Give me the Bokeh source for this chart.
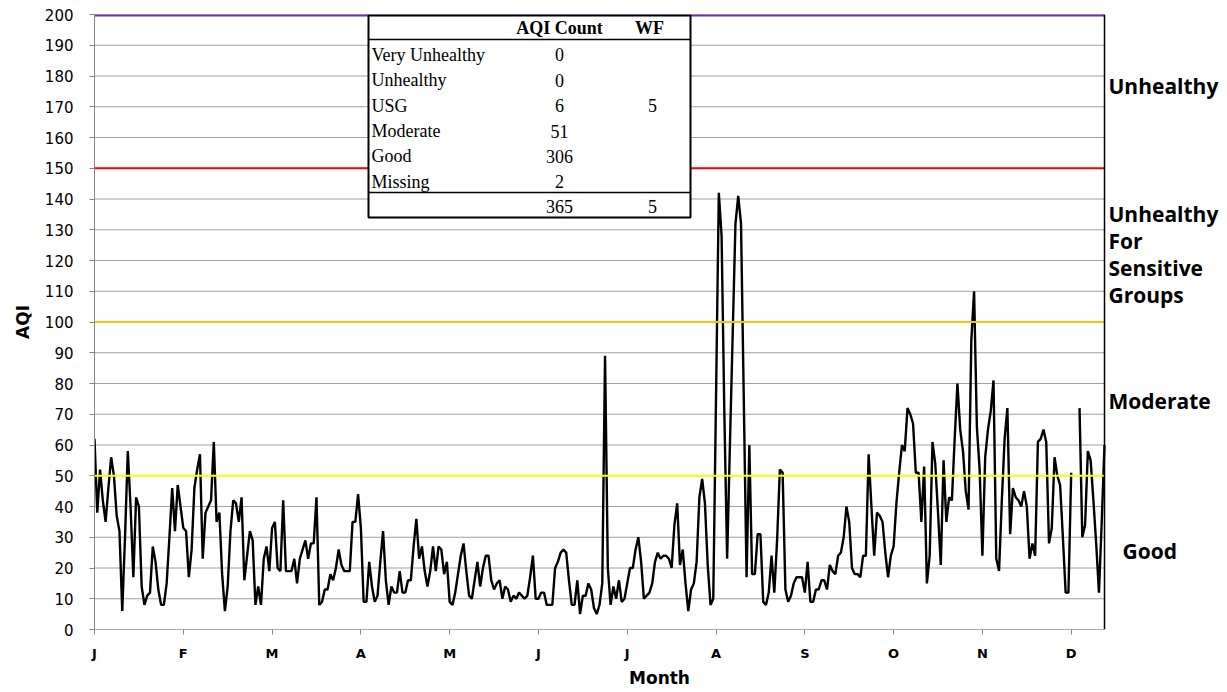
import numpy as np
from bokeh.plotting import figure
from bokeh.models import Span, BoxAnnotation, Label, FixedTicker, Range1d
from bokeh.embed import file_html
from bokeh.resources import INLINE

# ---------------- data ----------------
# daily AQI, Jan 1 .. Dec 31 (None = missing day)
aqi = [
    62, 38, 52, 42, 35, 46, 56, 50, 37, 32,
    6, 30, 58, 40, 17, 43, 40, 14, 8, 11,
    12, 27, 22, 13, 8, 8, 15, 30, 46, 32,
    47, 40, 33, 32, 17, 26, 46, 52, 57, 23,
    38, 40, 42, 61, 35, 38, 18, 6, 14, 32,
    42, 41, 35, 43, 16, 24, 32, 29, 8, 14,
    8, 23, 27, 19, 33, 35, 20, 19, 42, 19,
    19, 19, 23, 15, 23, 26, 29, 23, 28, 28,
    43, 8, 9, 13, 13, 18, 16, 20, 26, 21,
    19, 19, 19, 35, 35, 44, 33, 9, 9, 22,
    14, 9, 11, 22, 32, 16, 8, 14, 12, 12,
    19, 12, 12, 16, 16, 27, 36, 23, 27, 19,
    14, 19, 27, 19, 27, 26, 18, 22, 9, 8,
    12, 18, 24, 28, 19, 11, 10, 16, 22, 14,
    20, 24, 24, 16, 13, 15, 16, 10, 14, 13,
    9, 11, 10, 12, 11, 10, 11, 17, 24, 10,
    10, 12, 12, 8, 8, 8, 20, 22, 25, 26,
    25, 16, 8, 8, 16, 5, 11, 11, 15, 13,
    7, 5, 8, 15, 89, 20, 8, 14, 10, 16,
    9, 10, 15, 20, 20, 26, 30, 22, 10, 11,
    12, 15, 22, 25, 23, 24, 24, 23, 20, 34,
    41, 21, 26, 15, 6, 13, 15, 22, 43, 49,
    41, 21, 8, 10, 76, 142, 128, 70, 23, 60,
    96, 132, 141, 132, 75, 17, 60, 18, 18, 31,
    31, 9, 8, 12, 24, 12, 29, 52, 51, 13,
    9, 11, 15, 17, 17, 17, 12, 22, 9, 9,
    13, 13, 16, 16, 13, 21, 19, 18, 24, 25,
    30, 40, 35, 20, 18, 18, 17, 24, 24, 57,
    40, 24, 38, 37, 35, 25, 17, 24, 27, 41,
    51, 60, 58, 72, 70, 67, 51, 51, 35, 53,
    15, 24, 61, 54, 38, 21, 55, 35, 43, 42,
    62, 80, 65, 58, 45, 39, 94, 110, 66, 52,
    24, 56, 65, 71, 81, 23, 19, 42, 62, 72,
    31, 46, 43, 42, 40, 45, 40, 23, 28, 24,
    61, 62, 65, 61, 28, 33, 56, 50, 47, 30,
    12, 12, 51, None, None, 72, 30, 34, 58, 55,
    42, 28, 12, 35, 60,
]

month_letters = ["J", "F", "M", "A", "M", "J", "J", "A", "S", "O", "N", "D"]
tick_step_days = 32

thresholds = [50, 100, 150, 200]
threshold_colors = ["#FFFF00", "#FFC000", "#FF0000", "#7030A0"]
threshold_widths = [2, 2, 2, 4]   # top line is half clipped by the frame edge

table_categories = ["Very Unhealthy", "Unhealthy", "USG", "Moderate", "Good", "Missing"]
table_counts = ["0", "0", "6", "51", "306", "2"]
table_wf = ["", "", "5", "", "", ""]
table_total_count = "365"
table_total_wf = "5"

band_names = ["Unhealthy", "Unhealthy\nFor\nSensitive\nGroups", "Moderate", "Good"]

# ---------------- layout helpers ----------------
FRAME_L, FRAME_T = 94, 14          # page pixels of the data area origin
DATA_W, FRAME_H = 1010, 615        # width of the data area, frame height
PAGE_R = 1224                      # frame extends to here (room for band names)
y_vals = np.array(aqi, dtype=float)
days = np.arange(len(y_vals))
X0, X1 = 0, len(y_vals) - 1
Y0, Y1 = 0, 200
px_per_day = DATA_W / (X1 - X0)
X_END = X0 + (PAGE_R - FRAME_L) / px_per_day


def xd(px):
    return X0 + (px - FRAME_L) / px_per_day


def yd(py):
    return Y0 + (FRAME_T + FRAME_H - py) * (Y1 - Y0) / FRAME_H


p = figure(frame_width=PAGE_R - FRAME_L, frame_height=FRAME_H,
           x_range=Range1d(X0, X_END), y_range=Range1d(Y0, Y1),
           output_backend="svg", toolbar_location=None,
           min_border_left=FRAME_L, min_border_right=0,
           min_border_top=FRAME_T, min_border_bottom=58)
p.outline_line_color = None
p.background_fill_color = "white"

# axes
month_ticks = list(range(0, len(y_vals), tick_step_days))
y_ticks = list(range(0, 201, 10))
p.xaxis.ticker = FixedTicker(ticks=month_ticks)
p.xaxis.major_label_overrides = {t: m for t, m in zip(month_ticks, month_letters)}
p.yaxis.ticker = FixedTicker(ticks=y_ticks)
p.xgrid.visible = False
p.ygrid.visible = False

for ax in (p.xaxis, p.yaxis):
    ax.axis_line_color = "#868686"
    ax.major_tick_line_color = "#868686"
    ax.minor_tick_line_color = None
    ax.major_tick_in = 0
    ax.major_tick_out = 5
    ax.axis_label_text_font = "DejaVu Sans"
    ax.axis_label_text_font_style = "bold"
    ax.axis_label_text_font_size = "17px"
    ax.axis_label_text_color = "black"
    ax.major_label_text_color = "black"
    ax.major_label_text_font = "DejaVu Sans"
    ax.major_label_text_font_size = "15px"

p.xaxis.axis_line_color = None
p.xaxis.major_label_text_font_size = "13px"
p.xaxis.major_label_text_font_style = "bold"
p.xaxis.major_label_standoff = 11
p.xaxis.axis_label = "Month"
p.xaxis.axis_label_standoff = 4
p.yaxis.axis_label = "AQI"
p.yaxis.major_label_standoff = 16
p.yaxis.axis_label_standoff = 9

# horizontal gridlines limited to the data area
n = len(y_ticks)
p.segment(x0=[X0] * n, y0=y_ticks, x1=[X1] * n, y1=y_ticks,
          line_color="#A0A0A0", line_width=1)
# bottom axis line limited to the data area
p.segment(x0=[X0], y0=[Y0], x1=[X1], y1=[Y0], line_color="#868686", line_width=1)

# AQI line
p.line(days, y_vals, line_color="black", line_width=2.4)

# threshold lines (drawn over the AQI line)
m = len(thresholds)
p.segment(x0=[X0] * m, y0=thresholds, x1=[X1] * m, y1=thresholds,
          line_color=threshold_colors, line_width=threshold_widths)

# right border of the data area
p.add_layout(Span(location=X1, dimension="height", line_color="black", line_width=1.5))

# summary table
p.add_layout(BoxAnnotation(left=xd(368), right=xd(690), top=yd(15), bottom=yd(217),
                           fill_color="white", fill_alpha=1.0,
                           line_color="black", line_alpha=1.0, line_width=2))
for py in (39, 192):
    p.add_layout(BoxAnnotation(left=xd(368), right=xd(690), top=yd(py - 0.75), bottom=yd(py + 0.75),
                               fill_color="black", fill_alpha=1.0, line_color=None))

serif = "Liberation Serif"


def table_text(px, py, text, align="center", bold=False):
    p.add_layout(Label(x=xd(px), y=yd(py), text=text, text_font=serif, text_font_size="18px",
                       text_font_style="bold" if bold else "normal", text_color="black",
                       text_align=align, text_baseline="middle"))


table_text(559, 27, "AQI Count", bold=True)
table_text(649, 27, "WF", bold=True)
row_y = [54, 79.5, 105, 130.5, 155.5, 181]
for cat, cnt, wf, ry in zip(table_categories, table_counts, table_wf, row_y):
    table_text(371, ry, cat, align="left")
    table_text(559, ry, cnt)
    if wf:
        table_text(652, ry, wf)
table_text(559, 206, table_total_count)
table_text(652, 206, table_total_wf)

# band names at right
band_pos = [(1108, 85), (1108, 213), (1108, 400), (1122, 550)]
for name, (bx, by) in zip(band_names, band_pos):
    for i, line in enumerate(name.split("\n")):
        p.add_layout(Label(x=xd(bx), y=yd(by + i * 27), text=line, text_font="Open Sans",
                           text_font_size="21px", text_font_style="bold", text_color="black",
                           text_align="left", text_baseline="middle"))

open("out.html", "w").write(file_html(p, INLINE))
